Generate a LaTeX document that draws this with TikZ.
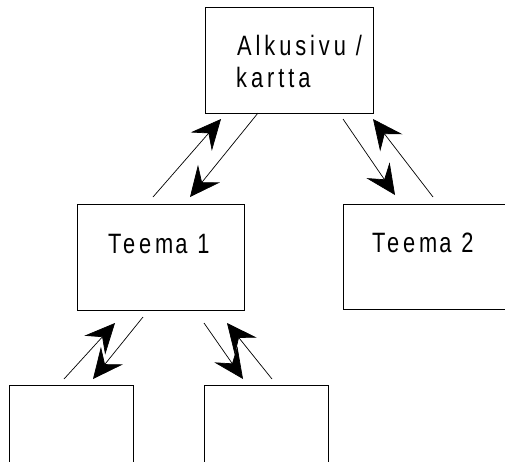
\documentclass[tikz,border=0pt]{standalone}
\usepackage{fontspec}
\newfontfamily\lab[FakeStretch=0.78,LetterSpace=14]{Liberation Sans}
\usetikzlibrary{arrows.meta}
\begin{document}
\begin{tikzpicture}[x=1pt,y=-1pt,
  box/.style={draw=black,line width=1pt,inner sep=0pt,outer sep=0pt,anchor=north west},
  openbox/.style={inner sep=0pt,outer sep=0pt,anchor=north west},
  boxline/.style={line width=1pt},
  lbl/.style={font=\lab\fontsize{28}{32}\selectfont,inner sep=0pt,anchor=base west},
  conn/.style={line width=0.7pt,-{Stealth[length=30pt,width=28pt,inset=11pt]}}]
\useasboundingbox (0,0) rectangle (505,461);
\clip (0,0) rectangle (505,461);
\fill[white] (0,0) rectangle (505,461);
% boxes
\node[box,minimum width=168pt,minimum height=106pt] (top) at (205,7) {};
\node[box,minimum width=167pt,minimum height=106pt] (t1) at (77,204) {};
\node[openbox,minimum width=170pt,minimum height=105pt] (t2) at (343,204) {};
\node[openbox,minimum width=124pt,minimum height=90pt] (bl) at (9,385) {};
\node[openbox,minimum width=124pt,minimum height=90pt] (br) at (204,385) {};
\draw[boxline] (t2.north west) -- (t2.north east);
\draw[boxline] (t2.south west) -- (t2.south east);
\draw[boxline] (t2.north west) -- (t2.south west);
\draw[boxline] (bl.south west) -- (bl.north west) -- (bl.north east) -- (bl.south east);
\draw[boxline] (br.south west) -- (br.north west) -- (br.north east) -- (br.south east);
% labels
\node[lbl] (l1) at (237,55) {Alkusivu /};
\node[lbl] (l2) at (236,87) {kartta};
\node[lbl] (l3) at (108,253) {Teem\kern2pt a 1};
\node[lbl] (l4) at (372,252) {Teem\kern2pt a 2};
% connector end points
\coordinate (a1s) at (153,197); \coordinate (a1e) at (221,119);
\coordinate (a2s) at (258,113); \coordinate (a2e) at (190,197);
\coordinate (a3s) at (343,119); \coordinate (a3e) at (395,195);
\coordinate (a4s) at (433,197); \coordinate (a4e) at (373,119);
\coordinate (a5s) at (64,379);  \coordinate (a5e) at (115,323);
\coordinate (a6s) at (143,317); \coordinate (a6e) at (93,379);
\coordinate (a7s) at (204,323); \coordinate (a7e) at (243,379);
\coordinate (a8s) at (272,379); \coordinate (a8e) at (227,323);
\foreach \i in {1,...,8} {\draw[conn] (a\i s) -- (a\i e);}
\end{tikzpicture}
\end{document}
